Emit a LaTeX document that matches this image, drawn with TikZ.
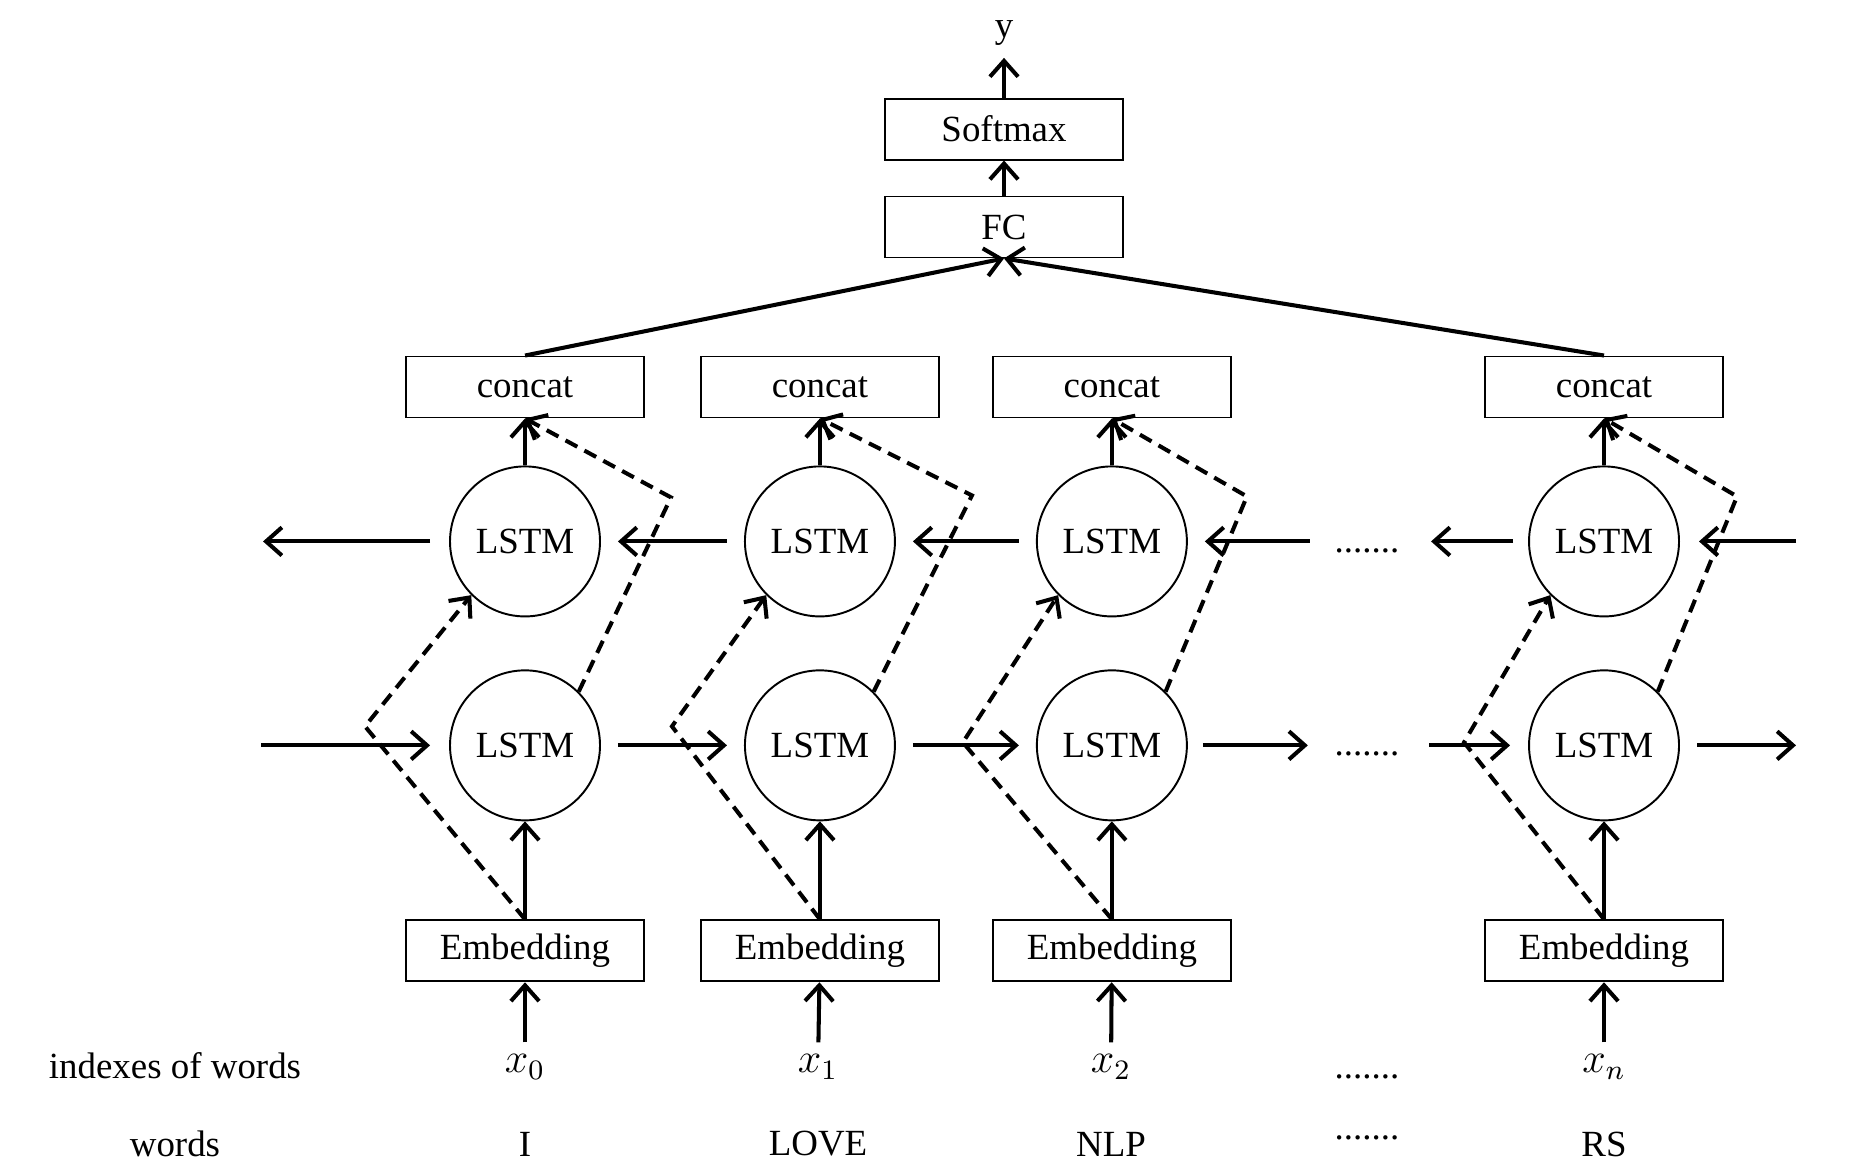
\documentclass[tikz,border=0pt]{standalone}
\usepackage{fontspec}
\setmainfont{Liberation Serif}
\usepackage{tikz}
\usetikzlibrary{positioning,arrows.meta}

\tikzset{
  box/.style={draw, line width=0.55pt, minimum width=2.38cm, minimum height=0.61cm, inner sep=0pt},
  cell/.style={draw, circle, line width=0.55pt, minimum size=1.5cm, inner sep=0pt},
  link/.style={-{Straight Barb[length=4.5pt,width=8pt]}, line width=1.15pt},
  skip/.style={link, dash pattern=on 3.8pt off 2.3pt},
  gap/.style={shorten <=.17cm, shorten >=.17cm},
  dots/.style={anchor=base, inner sep=0pt},
  idx/.style={font=\fontsize{12}{14}\selectfont}
}

\begin{document}
\begin{tikzpicture}[font=\fontsize{10.5}{12}\selectfont]

  \useasboundingbox (0,0) rectangle (18.66,11.75);

  \node[box] (fc) at (10.04,9.48) {FC};
  \node[box] (sm) [above=.35cm of fc] {Softmax};
  \node[] (y) at (10.04,11.42) {y};

  \node[box] (c0) at (5.25,7.88) {concat};
  \node[box] (c1) [right=.55cm of c0] {concat};
  \node[box] (c2) [right=.52cm of c1] {concat};
  \node[box] (c3) at (16.04,7.88) {concat};

  \node[cell] (u0) [below=.47cm of c0] {LSTM};
  \node[cell] (u1) [below=.47cm of c1] {LSTM};
  \node[cell] (u2) [below=.47cm of c2] {LSTM};
  \node[cell] (u3) [below=.47cm of c3] {LSTM};

  \node[cell] (l0) [below=.52cm of u0] {LSTM};
  \node[cell] (l1) [below=.52cm of u1] {LSTM};
  \node[cell] (l2) [below=.52cm of u2] {LSTM};
  \node[cell] (l3) [below=.52cm of u3] {LSTM};

  \node[box] (e0) [below=.98cm of l0] {Embedding};
  \node[box] (e1) [below=.98cm of l1] {Embedding};
  \node[box] (e2) [below=.98cm of l2] {Embedding};
  \node[box] (e3) [below=.98cm of l3] {Embedding};

  \node[] (ix) at (1.75,1.09) {indexes of words};
  \node[idx] (x0) at (5.25,1.08) {$x_0$};
  \node[idx] (x1) at (8.18,1.08) {$x_1$};
  \node[idx] (x2) at (11.11,1.08) {$x_2$};
  \node[idx] (x3) at (16.04,1.08) {$x_n$};

  \node[] (wd) at (1.75,0.31) {words};
  \node[] (w0) at (5.25,0.31) {I};
  \node[] (w1) at (8.18,0.31) {LOVE};
  \node[] (w2) at (11.11,0.31) {NLP};
  \node[] (w3) at (16.04,0.31) {RS};

  \node[dots] (du) at (13.67,6.22) {.......};
  \node[dots] (dl) at (13.67,4.20) {.......};
  \node[dots] (dx) at (13.67,0.97) {.......};
  \node[dots] (dw) at (13.67,0.36) {.......};

  \path[link] (fc) edge (sm);
  \path[link] (sm) edge (y);
  \path[link] (c0.north) edge (fc.south);
  \path[link] (c3.north) edge (fc.south);

  \path[link] (u0) edge (c0);
  \path[link] (u1) edge (c1);
  \path[link] (u2) edge (c2);
  \path[link] (u3) edge (c3);

  \path[link] (e0) edge (l0);
  \path[link] (e1) edge (l1);
  \path[link] (e2) edge (l2);
  \path[link] (e3) edge (l3);

  \path[link] (x0) edge (e0);
  \path[link] (x1) edge (e1);
  \path[link] (x2) edge (e2);
  \path[link] (x3) edge (e3);

  \node[coordinate] (ua) [left=1.86cm of u0] {};
  \node[coordinate] (ub) [right=1.22cm of u2] {};
  \node[coordinate] (uc) [left=.97cm of u3] {};
  \node[coordinate] (ud) [right=1.16cm of u3] {};

  \path[link, shorten <=.19cm] (u0) edge (ua);
  \path[link, gap] (u1) edge (u0);
  \path[link, gap] (u2) edge (u1);
  \path[link, shorten >=.17cm] (ub) edge (u2);
  \path[link, shorten <=.15cm] (u3) edge (uc);
  \path[link, shorten >=.19cm] (ud) edge (u3);

  \node[coordinate] (la) [left=1.88cm of l0] {};
  \node[coordinate] (lb) [right=1.20cm of l2] {};
  \node[coordinate] (lc) [left=.99cm of l3] {};
  \node[coordinate] (ld) [right=1.16cm of l3] {};

  \path[link, shorten >=.19cm] (la) edge (l0);
  \path[link, gap] (l0) edge (l1);
  \path[link, gap] (l1) edge (l2);
  \path[link, shorten <=.15cm] (l2) edge (lb);
  \path[link, shorten >=.18cm] (lc) edge (l3);
  \path[link, shorten <=.17cm] (l3) edge (ld);

  \node[coordinate] (p0) [above left=.19cm and 1.60cm of l0.center] {};
  \node[coordinate] (p1) [above left=.19cm and 1.48cm of l1.center] {};
  \node[coordinate] (p2) [above left=.03cm and 1.49cm of l2.center] {};
  \node[coordinate] (p3) [above left=.03cm and 1.40cm of l3.center] {};

  \node[coordinate] (q0) [above right=.44cm and 1.46cm of u0.center] {};
  \node[coordinate] (q1) [above right=.46cm and 1.52cm of u1.center] {};
  \node[coordinate] (q2) [above right=.45cm and 1.35cm of u2.center] {};
  \node[coordinate] (q3) [above right=.45cm and 1.33cm of u3.center] {};

  \draw[skip] (e0.north)--(p0)--(u0.south west);
  \draw[skip] (e1.north)--(p1)--(u1.south west);
  \draw[skip] (e2.north)--(p2)--(u2.south west);
  \draw[skip] (e3.north)--(p3)--(u3.south west);

  \draw[skip] (l0.north east)--(q0)--(c0.south);
  \draw[skip] (l1.north east)--(q1)--(c1.south);
  \draw[skip] (l2.north east)--(q2)--(c2.south);
  \draw[skip] (l3.north east)--(q3)--(c3.south);

\end{tikzpicture}
\end{document}
